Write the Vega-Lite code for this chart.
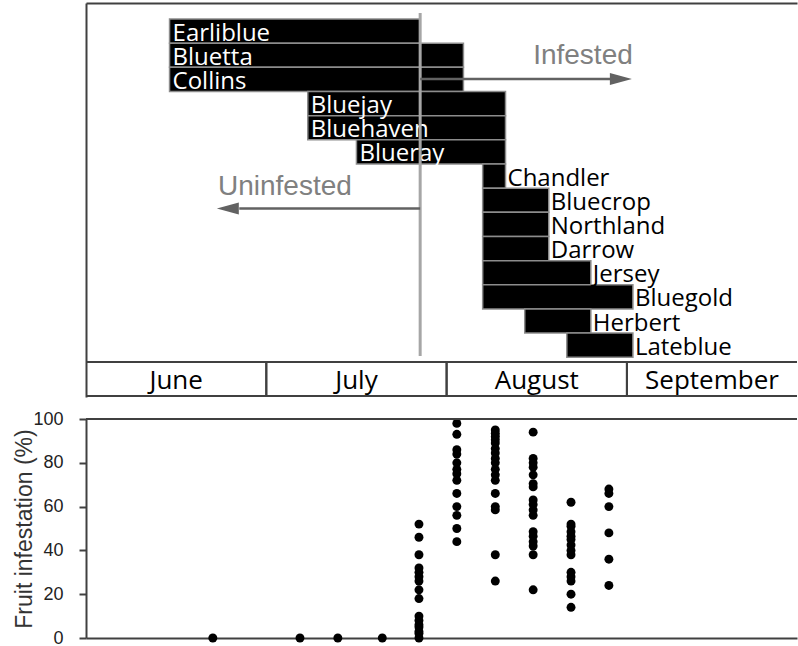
{
  "$schema": "https://vega.github.io/schema/vega-lite/v6.json",
  "padding": {"left": 13, "top": 3, "right": 0, "bottom": 0},
  "background": "white",
  "spacing": 13,
  "config": {"view": {"stroke": null}, "font": "Liberation Sans"},
  "datasets": {
    "cultivars": [
      {"row": 0, "variety": "Earliblue", "start": 13.9, "end": 55.6},
      {"row": 1, "variety": "Bluetta", "start": 13.9, "end": 62.8},
      {"row": 2, "variety": "Collins", "start": 13.9, "end": 62.8},
      {"row": 3, "variety": "Bluejay", "start": 36.9, "end": 69.8},
      {"row": 4, "variety": "Bluehaven", "start": 36.9, "end": 69.8},
      {"row": 5, "variety": "Blueray", "start": 45.0, "end": 69.8},
      {"row": 6, "variety": "Chandler", "start": 66.0, "end": 69.8},
      {"row": 7, "variety": "Bluecrop", "start": 66.0, "end": 77.0},
      {"row": 8, "variety": "Northland", "start": 66.0, "end": 77.0},
      {"row": 9, "variety": "Darrow", "start": 66.0, "end": 77.0},
      {"row": 10, "variety": "Jersey", "start": 66.0, "end": 84.0},
      {"row": 11, "variety": "Bluegold", "start": 66.0, "end": 91.0},
      {"row": 12, "variety": "Herbert", "start": 73.0, "end": 84.0},
      {"row": 13, "variety": "Lateblue", "start": 80.0, "end": 91.0}
    ],
    "months": [
      {"month": "June", "start": 0, "end": 30},
      {"month": "July", "start": 30, "end": 60},
      {"month": "August", "start": 60, "end": 90},
      {"month": "September", "start": 90, "end": 121}
    ],
    "infestation": [
      {"day": 21.1, "pct": 0},
      {"day": 35.6, "pct": 0},
      {"day": 41.9, "pct": 0},
      {"day": 49.3, "pct": 0},
      {"day": 55.4, "pct": 52}, {"day": 55.4, "pct": 46}, {"day": 55.4, "pct": 38}, {"day": 55.4, "pct": 32},
      {"day": 55.4, "pct": 30}, {"day": 55.4, "pct": 28}, {"day": 55.4, "pct": 26}, {"day": 55.4, "pct": 22},
      {"day": 55.4, "pct": 18}, {"day": 55.4, "pct": 10}, {"day": 55.4, "pct": 8}, {"day": 55.4, "pct": 6},
      {"day": 55.4, "pct": 5}, {"day": 55.4, "pct": 3}, {"day": 55.4, "pct": 2}, {"day": 55.4, "pct": 0},
      {"day": 61.7, "pct": 98}, {"day": 61.7, "pct": 93}, {"day": 61.7, "pct": 86}, {"day": 61.7, "pct": 84},
      {"day": 61.7, "pct": 80}, {"day": 61.7, "pct": 77}, {"day": 61.7, "pct": 75}, {"day": 61.7, "pct": 72},
      {"day": 61.7, "pct": 66}, {"day": 61.7, "pct": 60}, {"day": 61.7, "pct": 56}, {"day": 61.7, "pct": 50},
      {"day": 61.7, "pct": 44},
      {"day": 68.1, "pct": 95}, {"day": 68.1, "pct": 93.5}, {"day": 68.1, "pct": 92}, {"day": 68.1, "pct": 90.5},
      {"day": 68.1, "pct": 89}, {"day": 68.1, "pct": 86.5}, {"day": 68.1, "pct": 84.5}, {"day": 68.1, "pct": 82},
      {"day": 68.1, "pct": 80}, {"day": 68.1, "pct": 77}, {"day": 68.1, "pct": 74.5}, {"day": 68.1, "pct": 72},
      {"day": 68.1, "pct": 66}, {"day": 68.1, "pct": 60}, {"day": 68.1, "pct": 58.5}, {"day": 68.1, "pct": 38},
      {"day": 68.1, "pct": 26},
      {"day": 74.4, "pct": 94}, {"day": 74.4, "pct": 82}, {"day": 74.4, "pct": 80}, {"day": 74.4, "pct": 78},
      {"day": 74.4, "pct": 74.5}, {"day": 74.4, "pct": 70.5}, {"day": 74.4, "pct": 69}, {"day": 74.4, "pct": 63},
      {"day": 74.4, "pct": 61}, {"day": 74.4, "pct": 58.5}, {"day": 74.4, "pct": 56}, {"day": 74.4, "pct": 48.5},
      {"day": 74.4, "pct": 46.5}, {"day": 74.4, "pct": 44}, {"day": 74.4, "pct": 42}, {"day": 74.4, "pct": 38},
      {"day": 74.4, "pct": 22},
      {"day": 80.7, "pct": 62}, {"day": 80.7, "pct": 52}, {"day": 80.7, "pct": 51}, {"day": 80.7, "pct": 48.5},
      {"day": 80.7, "pct": 46.5}, {"day": 80.7, "pct": 45}, {"day": 80.7, "pct": 42.5}, {"day": 80.7, "pct": 40},
      {"day": 80.7, "pct": 38}, {"day": 80.7, "pct": 30}, {"day": 80.7, "pct": 28}, {"day": 80.7, "pct": 26},
      {"day": 80.7, "pct": 20}, {"day": 80.7, "pct": 14},
      {"day": 87.0, "pct": 68}, {"day": 87.0, "pct": 66}, {"day": 87.0, "pct": 60}, {"day": 87.0, "pct": 48},
      {"day": 87.0, "pct": 36}, {"day": 87.0, "pct": 24}
    ]
  },
  "vconcat": [
    {
      "width": 711,
      "height": 394,
      "layer": [
        {
          "data": {"name": "cultivars"},
          "transform": [{"calculate": "datum.row + 1", "as": "rowEnd"}],
          "mark": {"type": "rect", "fill": "black", "stroke": "#8c8c8c", "strokeWidth": 1.5},
          "encoding": {
            "x": {"field": "start", "type": "quantitative",
                  "scale": {"domain": [0, 118.3], "nice": false, "zero": false},
                  "axis": {"orient": "top", "labels": false, "ticks": false, "grid": false, "title": null,
                           "domainColor": "#404040", "domainWidth": 2}},
            "x2": {"field": "end"},
            "y": {"field": "row", "type": "quantitative",
                  "scale": {"domain": [-0.6625, 15.644], "reverse": true, "nice": false, "zero": false},
                  "axis": {"orient": "left", "labels": false, "ticks": false, "grid": false, "title": null,
                           "domainColor": "#404040", "domainWidth": 2}},
            "y2": {"field": "rowEnd"}
          }
        },
        {
          "data": {"name": "cultivars"},
          "transform": [{"filter": "datum.row < 6"}, {"calculate": "datum.row + 1", "as": "rowEnd"}],
          "mark": {"type": "text", "align": "left", "baseline": "alphabetic", "dx": 3, "dy": -2.5,
                   "font": "Open Sans", "fontSize": 24, "fill": "white"},
          "encoding": {
            "x": {"field": "start", "type": "quantitative"},
            "y": {"field": "rowEnd", "type": "quantitative"},
            "text": {"field": "variety"}
          }
        },
        {
          "data": {"name": "cultivars"},
          "transform": [{"filter": "datum.row >= 6"}, {"calculate": "datum.row + 1", "as": "rowEnd"}],
          "mark": {"type": "text", "align": "left", "baseline": "alphabetic", "dx": 2, "dy": -2.5,
                   "font": "Open Sans", "fontSize": 24, "fill": "black"},
          "encoding": {
            "x": {"field": "end", "type": "quantitative"},
            "y": {"field": "rowEnd", "type": "quantitative"},
            "text": {"field": "variety"}
          }
        },
        {
          "data": {"values": [{}]},
          "mark": {"type": "rule", "color": "#a6a6a6", "strokeWidth": 3},
          "encoding": {
            "x": {"datum": 55.6, "type": "quantitative"},
            "y": {"datum": -0.25, "type": "quantitative"},
            "y2": {"datum": 13.95}
          }
        },
        {
          "data": {"values": [{}]},
          "mark": {"type": "rule", "color": "#626262", "strokeWidth": 2.5},
          "encoding": {
            "x": {"datum": 55.6, "type": "quantitative"},
            "x2": {"datum": 87.5},
            "y": {"datum": 2.48, "type": "quantitative"}
          }
        },
        {
          "data": {"values": [{}]},
          "mark": {"type": "point", "shape": "M-1,-0.55L1,0L-1,0.55Z", "filled": true, "color": "#626262", "opacity": 1, "size": 484},
          "encoding": {
            "x": {"datum": 89, "type": "quantitative"},
            "y": {"datum": 2.48, "type": "quantitative"}
          }
        },
        {
          "data": {"values": [{}]},
          "mark": {"type": "rule", "color": "#626262", "strokeWidth": 2.5},
          "encoding": {
            "x": {"datum": 55.6, "type": "quantitative"},
            "x2": {"datum": 25.5},
            "y": {"datum": 7.84, "type": "quantitative"}
          }
        },
        {
          "data": {"values": [{}]},
          "mark": {"type": "point", "shape": "M1,-0.55L-1,0L1,0.55Z", "filled": true, "color": "#626262", "opacity": 1, "size": 484},
          "encoding": {
            "x": {"datum": 23.6, "type": "quantitative"},
            "y": {"datum": 7.84, "type": "quantitative"}
          }
        },
        {
          "data": {"values": [{"label": "Infested"}]},
          "mark": {"type": "text", "align": "left", "baseline": "alphabetic", "font": "Liberation Sans", "fontSize": 28, "fill": "#808080"},
          "encoding": {
            "x": {"datum": 74.4, "type": "quantitative"},
            "y": {"datum": 1.86, "type": "quantitative"},
            "text": {"field": "label"}
          }
        },
        {
          "data": {"values": [{"label": "Uninfested"}]},
          "mark": {"type": "text", "align": "left", "baseline": "alphabetic", "font": "Liberation Sans", "fontSize": 28, "fill": "#808080"},
          "encoding": {
            "x": {"datum": 21.96, "type": "quantitative"},
            "y": {"datum": 7.29, "type": "quantitative"},
            "text": {"field": "label"}
          }
        },
        {
          "data": {"name": "months"},
          "mark": {"type": "rect", "fill": null, "stroke": "#404040", "strokeWidth": 2, "clip": true},
          "encoding": {
            "x": {"field": "start", "type": "quantitative"},
            "x2": {"field": "end"},
            "y": {"datum": 14.195, "type": "quantitative"},
            "y2": {"datum": 15.6}
          }
        },
        {
          "data": {"name": "months"},
          "transform": [{"calculate": "(datum.start + min(datum.end, 118.3)) / 2", "as": "mid"}],
          "mark": {"type": "text", "align": "center", "baseline": "alphabetic", "font": "Open Sans", "fontSize": 26, "fill": "black"},
          "encoding": {
            "x": {"field": "mid", "type": "quantitative"},
            "y": {"datum": 15.32, "type": "quantitative"},
            "text": {"field": "month"}
          }
        }
      ]
    },
    {
      "width": 711,
      "height": 219,
      "layer": [
        {
          "data": {"name": "infestation"},
          "mark": {"type": "circle", "color": "black", "opacity": 1, "size": 80},
          "encoding": {
            "x": {"field": "day", "type": "quantitative",
                  "scale": {"domain": [0, 118.3], "nice": false, "zero": false},
                  "axis": {"orient": "bottom", "labels": false, "ticks": false, "grid": false, "title": null,
                           "domainColor": "#404040", "domainWidth": 2}},
            "y": {"field": "pct", "type": "quantitative",
                  "scale": {"domain": [0, 100], "nice": false},
                  "axis": {"values": [0, 20, 40, 60, 80, 100], "grid": false, "title": "Fruit infestation (%)",
                           "titleFont": "Liberation Sans", "titleFontSize": 23, "titleFontWeight": "normal",
                           "titleColor": "#333333", "titlePadding": -4,
                           "labelFont": "Liberation Sans", "labelFontSize": 18, "labelColor": "#222222", "labelPadding": 16,
                           "tickSize": 7, "tickColor": "#404040", "tickWidth": 2,
                           "domainColor": "#404040", "domainWidth": 2}}
          }
        },
        {
          "data": {"values": [{}]},
          "mark": {"type": "rule", "color": "#404040", "strokeWidth": 2},
          "encoding": {
            "y": {"datum": 100, "type": "quantitative"}
          }
        }
      ]
    }
  ]
}
